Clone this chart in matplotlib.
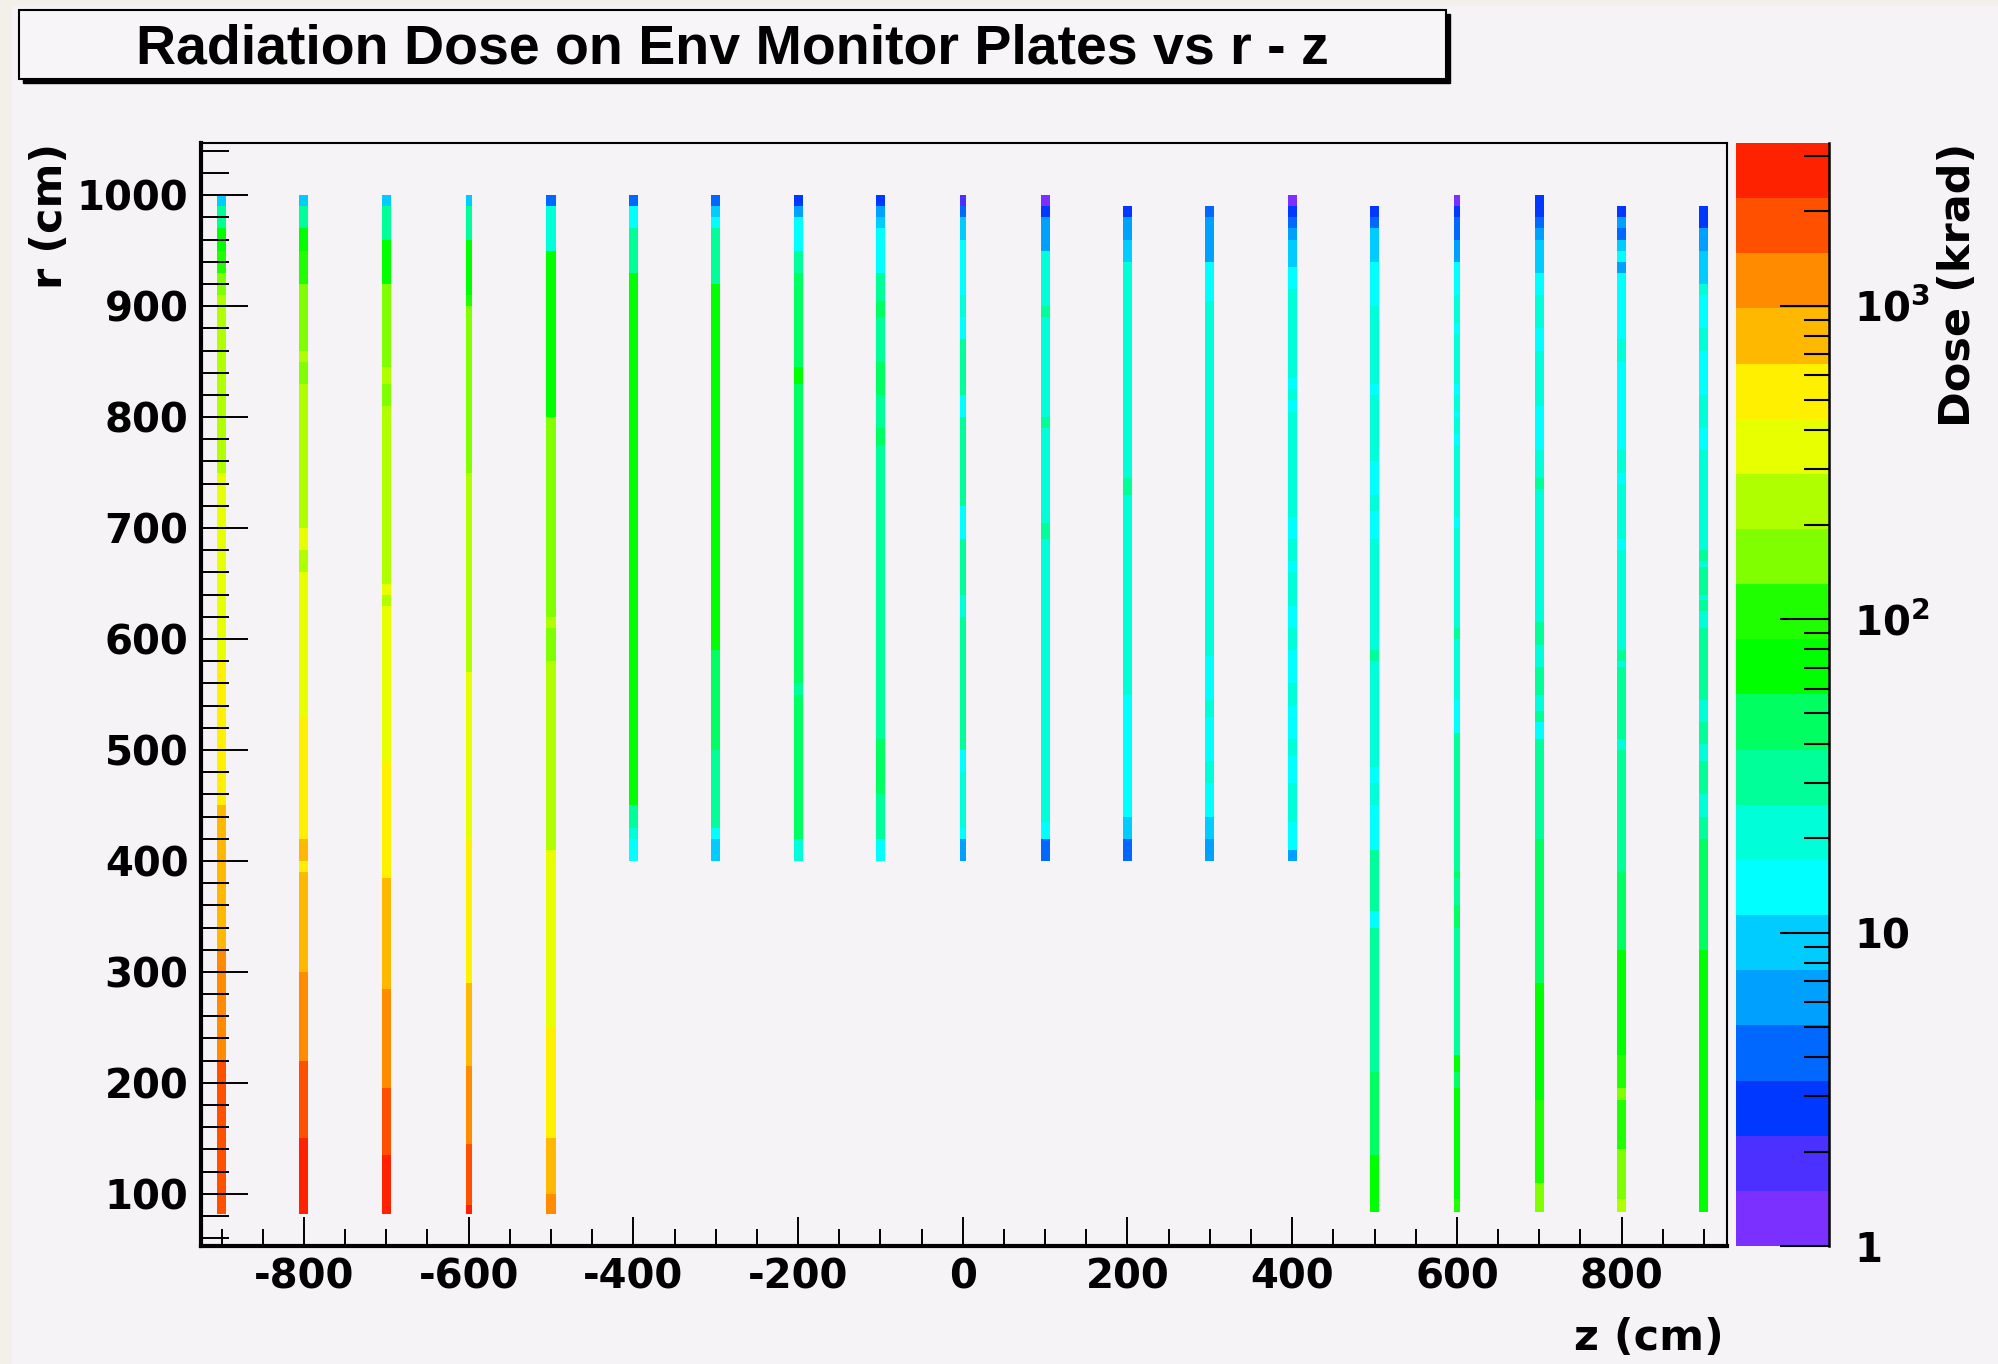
import numpy as np
import matplotlib
matplotlib.use("Agg")
import matplotlib.pyplot as plt
from matplotlib.colors import ListedColormap, LogNorm
from matplotlib.patches import Rectangle
from matplotlib.ticker import MultipleLocator, LogLocator

plt.rcParams['font.family'] = ['DejaVu Sans']
plt.rcParams['font.weight'] = 'bold'
plt.rcParams['axes.unicode_minus'] = False
plt.rcParams['mathtext.fontset'] = 'custom'
plt.rcParams['mathtext.rm'] = 'DejaVu Sans:bold'
plt.rcParams['mathtext.it'] = 'DejaVu Sans:bold'
plt.rcParams['mathtext.bf'] = 'DejaVu Sans:bold'

# ---------------- data ----------------
TITLE = "Radiation Dose on Env Monitor Plates vs r - z"
X_LABEL = "z (cm)"
Y_LABEL = "r (cm)"
Z_LABEL = "Dose (krad)"

PLATE_Z = [-900, -800, -700, -600, -500, -400, -300, -200, -100, 0,
           100, 200, 300, 400, 500, 600, 700, 800, 900]

# radial segment edges (cm), bottom -> top, for each plate
PLATE_R_EDGES = [
    [82, 220, 320, 450, 580, 750, 910, 930, 950, 970, 990, 1000],
    [82, 150, 220, 300, 390, 400, 420, 530, 660, 680, 700, 830, 850, 860, 920, 950, 970, 990, 1000],
    [82, 135, 195, 285, 385, 490, 630, 640, 650, 810, 830, 845, 920, 960, 990, 1000],
    [82, 90, 145, 215, 290, 420, 570, 750, 900, 910, 960, 990, 1000],
    [82, 100, 150, 250, 410, 580, 610, 620, 800, 950, 990, 1000],
    [400, 420, 430, 450, 930, 970, 990, 1000],
    [400, 420, 430, 500, 590, 920, 970, 980, 990, 1000],
    [400, 420, 550, 560, 830, 845, 930, 950, 980, 990, 1000],
    [400, 420, 460, 510, 775, 790, 820, 850, 890, 905, 930, 970, 980, 990, 1000],
    [400, 420, 430, 480, 500, 620, 640, 690, 720, 800, 820, 870, 890, 910, 960, 980, 990, 1000],
    [400, 420, 435, 690, 705, 790, 800, 890, 900, 950, 980, 990, 1000],
    [400, 420, 440, 550, 730, 745, 940, 960, 980, 990],
    [400, 420, 440, 470, 490, 530, 545, 585, 905, 940, 980, 990],
    [400, 410, 435, 470, 495, 510, 540, 560, 590, 610, 630, 660, 670, 690, 710, 805, 815, 825,
     835, 915, 935, 960, 970, 980, 990, 1000],
    [84, 135, 210, 340, 355, 410, 450, 470, 485, 580, 590, 690, 715, 730, 760, 820, 830, 900,
     940, 970, 980, 990],
    [84, 95, 195, 210, 225, 340, 360, 385, 390, 515, 545, 600, 610, 700, 710, 775, 785, 800,
     805, 820, 830, 875, 885, 910, 940, 960, 980, 990, 1000],
    [84, 110, 185, 290, 420, 510, 525, 535, 550, 575, 595, 615, 735, 745, 770, 810, 860, 880,
     910, 930, 960, 970, 980, 1000],
    [84, 95, 140, 185, 195, 225, 320, 390, 500, 510, 575, 580, 590, 680, 690, 740, 750, 770,
     850, 870, 930, 940, 950, 960, 970, 980, 990],
    [84, 320, 420, 440, 460, 490, 505, 525, 545, 610, 625, 635, 640, 665, 670, 680, 770, 790,
     820, 860, 880, 910, 920, 950, 970, 990],
]

# dose (krad) in each radial segment
PLATE_DOSE = [
    [1800, 1200, 800, 535, 355, 240, 160, 105, 70, 31, 9.3],
    [2700, 1800, 1200, 800, 535, 800, 535, 355, 240, 355, 240, 160, 240, 160, 105, 70, 31, 9.3],
    [2700, 1800, 1200, 800, 535, 355, 240, 355, 240, 160, 240, 160, 70, 31, 9.3],
    [2700, 1800, 1200, 800, 535, 355, 240, 160, 105, 70, 31, 9.3],
    [1200, 800, 535, 355, 240, 160, 240, 160, 70, 21, 4.1],
    [14, 21, 31, 70, 31, 14, 4.1],
    [9.3, 14, 31, 47, 70, 31, 14, 9.3, 4.1],
    [21, 47, 31, 47, 70, 47, 31, 14, 6.2, 2.8],
    [14, 31, 47, 31, 47, 31, 47, 31, 47, 31, 14, 9.3, 6.2, 2.8],
    [6.2, 14, 21, 14, 31, 21, 31, 14, 31, 14, 31, 14, 21, 14, 9.3, 4.1, 1.8],
    [4.1, 14, 21, 31, 21, 31, 21, 31, 21, 6.2, 2.8, 1.2],
    [4.1, 9.3, 14, 21, 31, 21, 9.3, 6.2, 2.8],
    [6.2, 9.3, 14, 21, 14, 21, 14, 21, 14, 6.2, 4.1],
    [6.2, 14, 21, 14, 21, 14, 21, 14, 21, 14, 21, 14, 21, 14, 21, 14, 21, 14, 21, 14, 9.3,
     6.2, 4.1, 2.8, 1.2],
    [70, 47, 31, 14, 31, 14, 21, 14, 21, 31, 21, 14, 21, 14, 21, 14, 21, 14, 9.3, 4.1, 2.8],
    [105, 70, 47, 70, 31, 47, 31, 47, 31, 14, 21, 31, 21, 14, 21, 14, 21, 14, 21, 14, 21, 14,
     21, 14, 6.2, 4.1, 2.8, 1.2],
    [160, 105, 70, 47, 31, 14, 31, 21, 31, 21, 31, 21, 31, 21, 14, 21, 14, 21, 14, 9.3, 6.2,
     4.1, 2.8],
    [240, 160, 105, 160, 105, 70, 47, 31, 21, 31, 21, 31, 21, 14, 21, 14, 21, 14, 21, 14, 6.2,
     14, 9.3, 4.1, 6.2, 2.8],
    [70, 47, 31, 21, 31, 21, 31, 21, 31, 21, 31, 21, 31, 21, 31, 21, 14, 21, 14, 21, 14, 21,
     9.3, 6.2, 2.8],
]

DOSE_MIN, DOSE_MAX = 1.0, 3300.0
X_RANGE = (-925, 928)
Y_RANGE = (53, 1047)
CBAR_TICKS = [1, 10, 100, 1000]
CBAR_TICK_LABELS = ["1", "10", r"$10^{2}$", r"$10^{3}$"]

# ---------------- style ----------------
PALETTE = ["#7c30ff", "#4c30ff", "#0038ff", "#0068ff", "#00a0ff", "#00ccff", "#00ffff",
           "#00ffd8", "#00ff98", "#00ff60", "#00ff00", "#20ff00", "#80ff00", "#b0ff00",
           "#e8ff00", "#fff000", "#ffb800", "#ff8c00", "#ff5000", "#ff2200"]
NARROW_PLATES = {-600, 0, 600}
PLATE_W, NARROW_W = 11.0, 7.0
BG = "#f6f3f6"
BORDER = "#f2f0e8"
LABEL_SIZE = 29
TITLE_SIZE = 31

W, H = 1998, 1364
fig = plt.figure(figsize=(W / 100, H / 100), dpi=100, facecolor=BG)

# beige outer strips
fig.patches.append(Rectangle((0, 0), 12 / W, 1, transform=fig.transFigure,
                             facecolor=BORDER, edgecolor='none', zorder=0))
fig.patches.append(Rectangle((0, 1 - 6 / H), 1, 6 / H, transform=fig.transFigure,
                             facecolor=BORDER, edgecolor='none', zorder=0))

ax = fig.add_axes([201 / W, 1 - 1246 / H, (1727 - 201) / W, (1246 - 143) / H])
ax.set_facecolor(BG)
cmap = ListedColormap(PALETTE)
norm = LogNorm(vmin=DOSE_MIN, vmax=DOSE_MAX)

mesh = None
for z, edges, dose in zip(PLATE_Z, PLATE_R_EDGES, PLATE_DOSE):
    w = NARROW_W if z in NARROW_PLATES else PLATE_W
    xe = np.array([z - w / 2, z + w / 2])
    ye = np.array(edges, dtype=float)
    c = np.array(dose, dtype=float).reshape(-1, 1)
    mesh = ax.pcolormesh(xe, ye, c, cmap=cmap, norm=norm, shading='flat',
                         antialiased=False, linewidth=0)

ax.set_xlim(*X_RANGE)
ax.set_ylim(*Y_RANGE)
ax.xaxis.set_major_locator(MultipleLocator(200))
ax.xaxis.set_minor_locator(MultipleLocator(50))
ax.yaxis.set_major_locator(MultipleLocator(100))
ax.yaxis.set_minor_locator(MultipleLocator(20))
ax.tick_params(axis='x', which='major', direction='in', length=21, width=1.4,
               labelsize=LABEL_SIZE, pad=8, top=False)
ax.tick_params(axis='x', which='minor', direction='in', length=12, width=1.4, top=False)
ax.tick_params(axis='y', which='major', direction='in', length=34, width=1.4,
               labelsize=LABEL_SIZE, pad=9, right=False)
ax.tick_params(axis='y', which='minor', direction='in', length=20, width=1.4, right=False)
for lab in ax.get_xticklabels() + ax.get_yticklabels():
    lab.set_fontweight('bold')
ax.spines['left'].set_linewidth(3.0)
ax.spines['bottom'].set_linewidth(3.0)
ax.spines['top'].set_linewidth(1.5)
ax.spines['right'].set_linewidth(1.5)

# colour bar
cax = fig.add_axes([1736 / W, 1 - 1246 / H, (1829 - 1736) / W, (1246 - 143) / H])
cb = fig.colorbar(mesh, cax=cax)
cb.outline.set_visible(False)
cb.set_ticks(CBAR_TICKS, labels=CBAR_TICK_LABELS)
cax.yaxis.set_minor_locator(LogLocator(base=10, subs=tuple(range(2, 10)), numticks=20))
cax.tick_params(which='major', direction='in', length=35, width=1.5,
                labelsize=LABEL_SIZE, pad=18)
cax.tick_params(which='minor', direction='in', length=18, width=1.5)
cax.plot([1, 1], [0, 1], transform=cax.transAxes, color='black', lw=1.8, clip_on=False)

# axis titles
fig.text(50 / W, 1 - 143 / H, Y_LABEL, rotation=90, ha='center', va='top',
         fontsize=TITLE_SIZE, fontweight='bold')
fig.text(1958 / W, 1 - 143 / H, Z_LABEL, rotation=90, ha='center', va='top',
         fontsize=TITLE_SIZE, fontweight='bold')
fig.text(1724 / W, 1 - 1338 / H, X_LABEL, ha='right', va='center',
         fontsize=TITLE_SIZE, fontweight='bold')

# title box with shadow
bx0, bx1, by0, by1 = 19, 1446, 10, 79
fig.patches.append(Rectangle(((bx0 + 4) / W, 1 - (by1 + 4) / H), (bx1 - bx0) / W,
                             (by1 - by0) / H, transform=fig.transFigure,
                             facecolor='black', edgecolor='black', zorder=1))
fig.patches.append(Rectangle((bx0 / W, 1 - by1 / H), (bx1 - bx0) / W, (by1 - by0) / H,
                             transform=fig.transFigure, facecolor='#f8f5f8',
                             edgecolor='black', lw=1.5, zorder=2))
fig.text((bx0 + bx1) / 2 / W, 1 - 64 / H, TITLE, ha='center', va='baseline',
         fontsize=40, fontweight='bold', family=['Liberation Sans', 'DejaVu Sans'], zorder=3)

fig.savefig("out.png", dpi=100, facecolor=BG)
